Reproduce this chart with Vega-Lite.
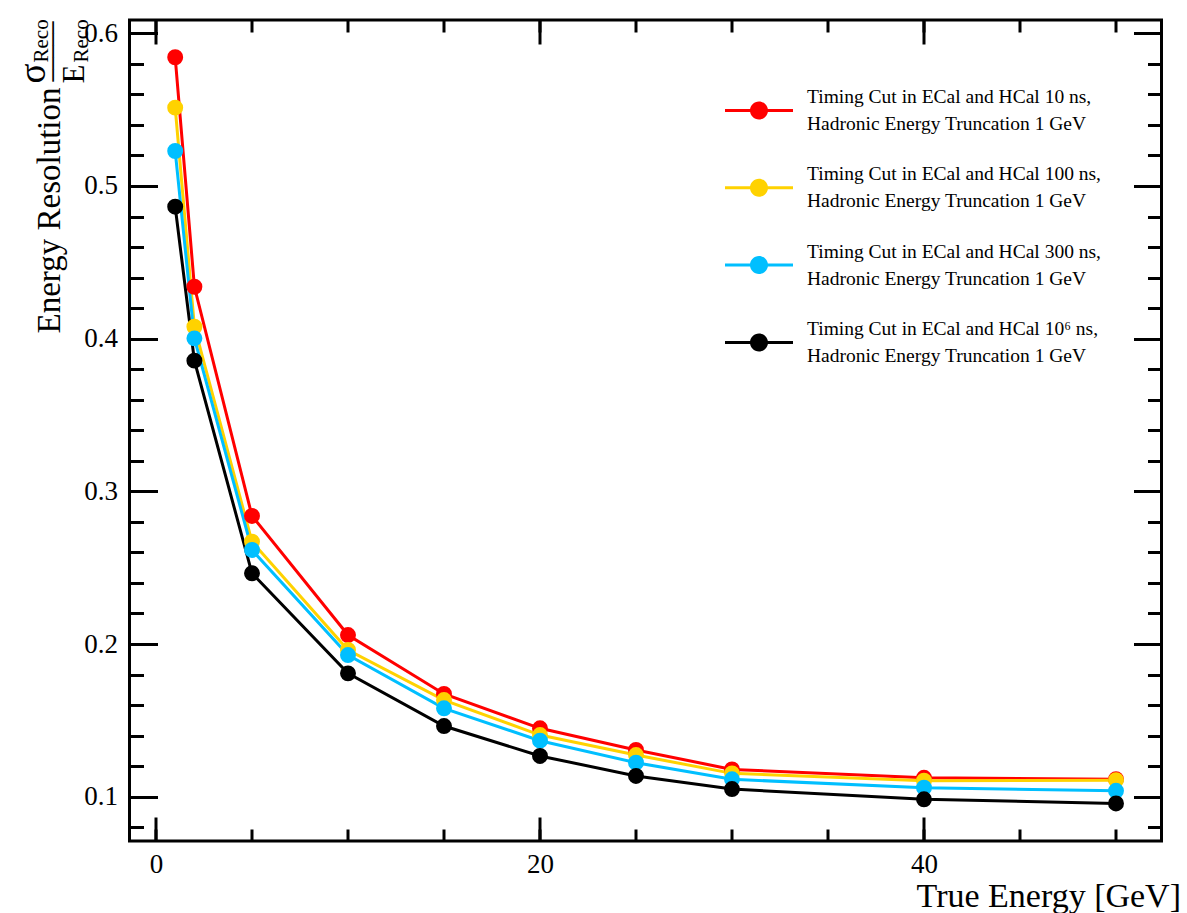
{
  "$schema": "https://vega.github.io/schema/vega-lite/v6.json",
  "autosize": {"type": "none"},
  "padding": {"left": 129.5, "top": 20, "right": 25.5, "bottom": 72},
  "width": 1032,
  "height": 821,
  "background": "white",
  "data": {"values": [
    {"energy": 1, "res": 0.5843, "series": "10 ns"},
    {"energy": 2, "res": 0.4340, "series": "10 ns"},
    {"energy": 5, "res": 0.2839, "series": "10 ns"},
    {"energy": 10, "res": 0.2059, "series": "10 ns"},
    {"energy": 15, "res": 0.1673, "series": "10 ns"},
    {"energy": 20, "res": 0.1448, "series": "10 ns"},
    {"energy": 25, "res": 0.1306, "series": "10 ns"},
    {"energy": 30, "res": 0.1179, "series": "10 ns"},
    {"energy": 40, "res": 0.1124, "series": "10 ns"},
    {"energy": 50, "res": 0.1115, "series": "10 ns"},
    {"energy": 1, "res": 0.5513, "series": "100 ns"},
    {"energy": 2, "res": 0.4078, "series": "100 ns"},
    {"energy": 5, "res": 0.2670, "series": "100 ns"},
    {"energy": 10, "res": 0.1961, "series": "100 ns"},
    {"energy": 15, "res": 0.1633, "series": "100 ns"},
    {"energy": 20, "res": 0.1404, "series": "100 ns"},
    {"energy": 25, "res": 0.1273, "series": "100 ns"},
    {"energy": 30, "res": 0.1153, "series": "100 ns"},
    {"energy": 40, "res": 0.1105, "series": "100 ns"},
    {"energy": 50, "res": 0.1108, "series": "100 ns"},
    {"energy": 1, "res": 0.5229, "series": "300 ns"},
    {"energy": 2, "res": 0.4002, "series": "300 ns"},
    {"energy": 5, "res": 0.2616, "series": "300 ns"},
    {"energy": 10, "res": 0.1928, "series": "300 ns"},
    {"energy": 15, "res": 0.1579, "series": "300 ns"},
    {"energy": 20, "res": 0.1367, "series": "300 ns"},
    {"energy": 25, "res": 0.1223, "series": "300 ns"},
    {"energy": 30, "res": 0.1114, "series": "300 ns"},
    {"energy": 40, "res": 0.1059, "series": "300 ns"},
    {"energy": 50, "res": 0.1039, "series": "300 ns"},
    {"energy": 1, "res": 0.4864, "series": "10⁶ ns"},
    {"energy": 2, "res": 0.3856, "series": "10⁶ ns"},
    {"energy": 5, "res": 0.2463, "series": "10⁶ ns"},
    {"energy": 10, "res": 0.1808, "series": "10⁶ ns"},
    {"energy": 15, "res": 0.1463, "series": "10⁶ ns"},
    {"energy": 20, "res": 0.1267, "series": "10⁶ ns"},
    {"energy": 25, "res": 0.1136, "series": "10⁶ ns"},
    {"energy": 30, "res": 0.1050, "series": "10⁶ ns"},
    {"energy": 40, "res": 0.0983, "series": "10⁶ ns"},
    {"energy": 50, "res": 0.0956, "series": "10⁶ ns"}
  ]},
  "resolve": {"axis": {"x": "independent", "y": "independent"}},
  "layer": [
    {
      "mark": {"type": "line", "strokeWidth": 3},
      "encoding": {
        "x": {"field": "energy", "type": "quantitative",
          "scale": {"domain": [-1.38, 52.37], "nice": false, "zero": false},
          "axis": {"orient": "bottom", "values": [0, 20, 40], "tickSize": -24, "labelPadding": 34,
            "labelFont": "Liberation Serif", "labelFontSize": 27, "title": "True Energy [GeV]", "titleFontSize": 34,
            "titleAlign": "right", "titleX": 1051, "titleY": 65, "titleBaseline": "alphabetic"}},
        "y": {"field": "res", "type": "quantitative",
          "scale": {"domain": [0.071, 0.6087], "nice": false, "zero": false},
          "axis": {"orient": "left", "values": [0.1, 0.2, 0.3, 0.4, 0.5, 0.6], "tickSize": -28, "labelPadding": 40,
            "labelFont": "Liberation Serif", "labelFontSize": 27, "format": ".1f", "title": "Energy Resolution", "titleFontSize": 33,
            "titleAngle": -90, "titleAlign": "center", "titleBaseline": "alphabetic", "titleX": -70, "titleY": 190}},
        "stroke": {"field": "series", "type": "nominal", "legend": null,
          "scale": {"domain": ["10⁶ ns", "300 ns", "100 ns", "10 ns"], "range": ["#000000", "#00BFFF", "#FFD200", "#FF0000"]}}
      }
    },
    {
      "mark": {"type": "point", "filled": true, "size": 254, "opacity": 1},
      "encoding": {
        "x": {"field": "energy", "type": "quantitative",
          "axis": {"orient": "bottom", "values": [0, 5, 10, 15, 20, 25, 30, 35, 40, 45, 50], "tickSize": -12, "labels": false, "title": null}},
        "y": {"field": "res", "type": "quantitative",
          "axis": {"orient": "left", "values": [0.08, 0.1, 0.12, 0.14, 0.16, 0.18, 0.2, 0.22, 0.24, 0.26, 0.28, 0.3, 0.32, 0.34, 0.36, 0.38, 0.4, 0.42, 0.44, 0.46, 0.48, 0.5, 0.52, 0.54, 0.56, 0.58, 0.6],
            "tickSize": -14, "labels": false, "title": "σ", "titleFontSize": 37,
            "titleAngle": -90, "titleAlign": "left", "titleBaseline": "alphabetic", "titleX": -85.5, "titleY": 63}},
        "color": {"field": "series", "type": "nominal",
          "scale": {"domain": ["10 ns", "100 ns", "300 ns", "10⁶ ns"], "range": ["#FF0000", "#FFD200", "#00BFFF", "#000000"]},
          "legend": {"orient": "none", "legendX": 595.5, "legendY": 43, "title": null, "padding": 0,
            "symbolType": "M-1,0.353L1,0.353L1,0.441L-1,0.441Z M0.265,0.397A0.265,0.265,0,1,1,-0.265,0.397A0.265,0.265,0,1,1,0.265,0.397Z",
            "symbolSize": 4624, "symbolStrokeWidth": 0, "symbolOpacity": 1,
            "labelFont": "Liberation Serif", "labelFontSize": 19.5, "labelColor": "black", "labelLimit": 500,
            "labelOffset": 14, "rowPadding": 6.3,
            "labelExpr": "['Timing Cut in ECal and HCal ' + datum.label + ',', 'Hadronic Energy Truncation 1 GeV']"}}
      }
    },
    {
      "mark": {"type": "point", "opacity": 0},
      "encoding": {
        "x": {"field": "energy", "type": "quantitative",
          "axis": {"orient": "top", "values": [0, 20, 40], "tickSize": -24, "labels": false,
            "title": "E", "titleFontSize": 31, "titleAngle": -90, "titleAlign": "left", "titleBaseline": "alphabetic",
            "titleX": -46.5, "titleY": 63}},
        "y": {"field": "res", "type": "quantitative",
          "axis": {"orient": "right", "values": [0.1, 0.2, 0.3, 0.4, 0.5, 0.6], "tickSize": -28, "labels": false,
            "title": ["Reco", "Reco"], "titleFontSize": 21, "titleLineHeight": 40,
            "titleAngle": -90, "titleAlign": "left", "titleBaseline": "alphabetic", "titleX": -1114.5, "titleY": 42}}
      }
    },
    {
      "mark": {"type": "point", "opacity": 0},
      "encoding": {
        "x": {"field": "energy", "type": "quantitative",
          "axis": {"orient": "top", "values": [0, 5, 10, 15, 20, 25, 30, 35, 40, 45, 50], "tickSize": -12, "labels": false, "title": null}},
        "y": {"field": "res", "type": "quantitative",
          "axis": {"orient": "right", "values": [0.08, 0.1, 0.12, 0.14, 0.16, 0.18, 0.2, 0.22, 0.24, 0.26, 0.28, 0.3, 0.32, 0.34, 0.36, 0.38, 0.4, 0.42, 0.44, 0.46, 0.48, 0.5, 0.52, 0.54, 0.56, 0.58, 0.6],
            "tickSize": -14, "labels": false,
            "title": "─────", "titleFont": "DejaVu Sans", "titleFontSize": 20,
            "titleAngle": -90, "titleAlign": "center", "titleBaseline": "middle", "titleX": -1108.5, "titleY": 31}}
      }
    }
  ],
  "config": {
    "view": {"stroke": "black", "strokeWidth": 3},
    "style": {"guide-label": {"lineHeight": 27, "font": "Liberation Serif"}},
    "axis": {"domain": false, "grid": false, "tickColor": "black", "tickWidth": 3,
      "labelColor": "black", "titleColor": "black", "labelFont": "Liberation Serif",
      "titleFont": "Liberation Serif", "titleFontWeight": "normal", "labelFlush": false, "labelOverlap": false}
  }
}
